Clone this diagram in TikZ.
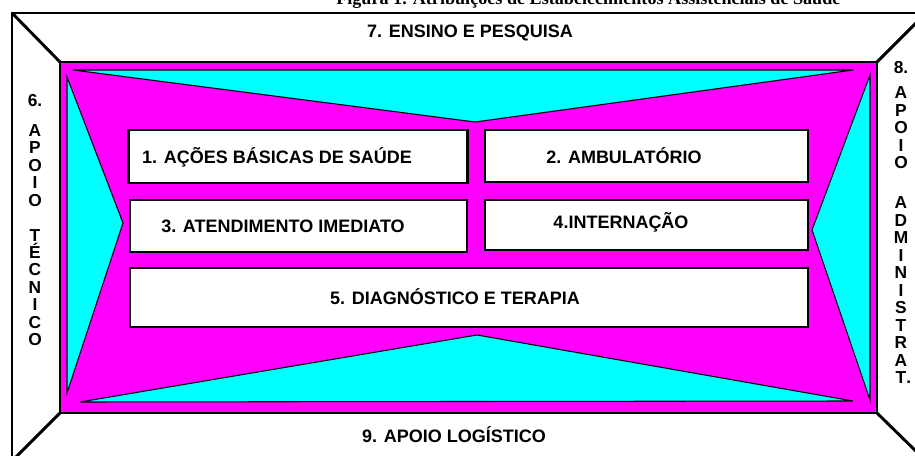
\documentclass[tikz,border=0pt]{standalone}
\usepackage{fontspec}
\setmainfont{Liberation Sans}
\newfontfamily\capfont{Liberation Serif}
\definecolor{rosa}{RGB}{255,0,255}
\definecolor{ciano}{RGB}{0,255,255}
\tikzset{
  sector/.style={draw, line width=1.8pt, fill=white, rectangle, inner sep=0pt},
  sector label/.style={font=\bfseries\fontsize{13.5}{16}\selectfont, inner sep=0pt},
  side label/.style={font=\bfseries\fontsize{13}{13.1}\selectfont, align=center, inner sep=0pt, anchor=north},
  wedge/.style={fill=ciano, draw=black, line width=0.8pt, line join=miter}
}
\begin{document}
\begin{tikzpicture}[x=0.75pt, y=-0.75pt]
\useasboundingbox (0,0) rectangle (915,456);

% legenda (cortada no topo)
\node[font=\capfont\bfseries\fontsize{13.6}{15}\selectfont, anchor=base west, inner sep=0pt] (cap) at (336,5) {Figura 1. Atribuições de Estabelecimentos Assistenciais de Saúde};

% moldura externa e interna
\coordinate (onw) at (12,13);  \coordinate (one) at (926,13);
\coordinate (osw) at (12,461); \coordinate (ose) at (926,461);
\coordinate (inw) at (60,62);  \coordinate (ine) at (877,62);
\coordinate (isw) at (60,413); \coordinate (ise) at (877,413);
\draw[line width=2.2pt, fill=white] (onw) rectangle (ose);
\draw[line width=2.2pt, fill=rosa] (inw) rectangle (ise);
\draw[line width=2.2pt] (onw) -- (inw) (one) -- (ine) (osw) -- (isw) (ose) -- (ise);

% triangulos
\filldraw[wedge] (73,70) -- (853,70) -- (475,122) -- cycle;
\filldraw[wedge] (67,77) -- (67,393) -- (123,223) -- cycle;
\filldraw[wedge] (870,75) -- (870,400) -- (812,230) -- cycle;
\filldraw[wedge] (80,402) -- (853,401) -- (477,335) -- cycle;

% setores
\node[sector, minimum width=254.3pt, minimum height=39.4pt] (b1) at (298,156.5) {};
\node[sector, minimum width=242.3pt, minimum height=39pt] (b2) at (646.5,156) {};
\node[sector, minimum width=252.8pt, minimum height=39pt] (b3) at (298.5,226) {};
\node[sector, minimum width=242.3pt, minimum height=37.5pt] (b4) at (646.5,225) {};
\node[sector, minimum width=508.5pt, minimum height=44.3pt] (b5) at (469,297.5) {};

\node[sector label] (t1) at (277,157) {1. AÇÕES BÁSICAS DE SAÚDE};
\node[sector label] (t2) at (624,156) {2. AMBULATÓRIO};
\node[sector label] (t3) at (283,226) {3. ATENDIMENTO IMEDIATO};
\node[sector label] (t4) at (621,222) {4.INTERNAÇÃO};
\node[sector label] (t5) at (455,297) {5. DIAGNÓSTICO E TERAPIA};
\node[sector label] (t7) at (470,33) {7. ENSINO E PESQUISA};
\node[sector label] (t9) at (454,435) {9. APOIO LOGÍSTICO};

% rotulos laterais
\node[side label] (t6) at (35,94) {6.\\[9.4pt] A\\P\\O\\I\\O\\[13pt] T\\É\\C\\N\\I\\C\\O};
\node[side label] (t8) at (901,61) {8.\\[6pt] A\\P\\O\\I\\O\\[17pt] A\\D\\M\\I\\N\\I\\S\\T\\R\\A\\T\rlap{.}};
\end{tikzpicture}
\end{document}
